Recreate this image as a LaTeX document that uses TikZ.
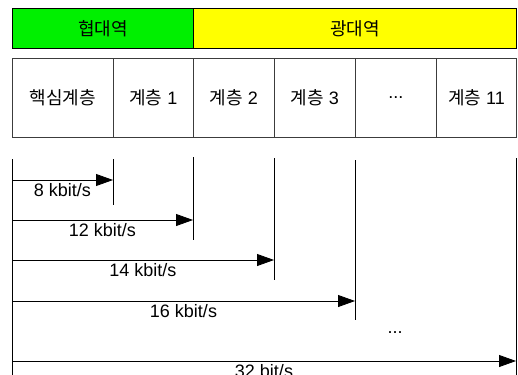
\documentclass[tikz,border=0pt]{standalone}
\usepackage{fontspec}
\setmainfont{Liberation Sans}
\newfontfamily\kr{Noto Sans CJK KR}
\usetikzlibrary{arrows.meta}
\definecolor{bandgreen}{RGB}{0,240,0}
\definecolor{bandyellow}{RGB}{255,255,0}
\definecolor{cellline}{RGB}{60,60,60}
\tikzset{
  txt/.style={font=\fontsize{18}{21}\selectfont},
  band/.style={txt, draw=black, line width=0.8pt, anchor=north west, minimum height=40pt, inner sep=0pt},
  cell/.style={txt, draw=cellline, line width=0.8pt, anchor=north west, minimum height=79pt, inner sep=0pt},
  marker/.style={draw=black, line width=0.8pt},
  ratearrow/.style={draw=black, line width=0.8pt, -{Triangle[length=17pt,width=12pt]}},
  ratelabel/.style={txt, inner sep=0pt, anchor=north},
}
\begin{document}
\begin{tikzpicture}[x=1pt,y=-1pt]
\useasboundingbox (0,0) rectangle (518,374);
% bands
\node[band, fill=bandgreen, minimum width=181pt] (nb) at (12,8) {{\kr 협대역}};
\node[band, fill=bandyellow, minimum width=323pt] (wb) at (193,8) {{\kr 광대역}};
% cells
\node[cell, minimum width=101pt] (c0) at (12,58) {{\kr 핵심계층}};
\node[cell, minimum width=80pt] (c1) at (113,58) {{\kr 계층} 1};
\node[cell, minimum width=81pt] (c2) at (193,58) {{\kr 계층} 2};
\node[cell, minimum width=81pt] (c3) at (274,58) {{\kr 계층} 3};
\node[cell, minimum width=81pt] (c4) at (355,58) {...};
\node[cell, minimum width=80pt] (c5) at (436,58) {{\kr 계층} 11};
% marker lines
\coordinate (l0t) at (12,159); \coordinate (l0b) at (12,378);
\coordinate (l1t) at (113,159); \coordinate (l1b) at (113,205);
\coordinate (l2t) at (193,157); \coordinate (l2b) at (193,240);
\coordinate (l3t) at (274,158); \coordinate (l3b) at (274,280);
\coordinate (l4t) at (355,160); \coordinate (l4b) at (355,320);
\coordinate (l5t) at (516,158); \coordinate (l5b) at (516,378);
\foreach \i in {0,...,5} \draw[marker] (l\i t) -- (l\i b);
% arrow endpoints
\coordinate (a1s) at (12,180); \coordinate (a1e) at (113,180);
\coordinate (a2s) at (12,220); \coordinate (a2e) at (193,220);
\coordinate (a3s) at (12,260); \coordinate (a3e) at (274,260);
\coordinate (a4s) at (12,301); \coordinate (a4e) at (355,301);
\coordinate (a5s) at (12,361); \coordinate (a5e) at (516,361);
\draw[ratearrow] (a1s) -- (a1e) node[ratelabel, midway, yshift=-3pt] (t1) {8 kbit/s};
\draw[ratearrow] (a2s) -- (a2e) node[ratelabel, midway, yshift=-3pt] (t2) {12 kbit/s};
\draw[ratearrow] (a3s) -- (a3e) node[ratelabel, midway, yshift=-3pt] (t3) {14 kbit/s};
\draw[ratearrow] (a4s) -- (a4e) node[ratelabel, midway, yshift=-3pt] (t4) {16 kbit/s};
\draw[ratearrow] (a5s) -- (a5e) node[ratelabel, midway, yshift=-3pt] (t5) {32 bit/s};
\node[txt, inner sep=0pt] (dots) at (395,333) {...};
\end{tikzpicture}
\end{document}
